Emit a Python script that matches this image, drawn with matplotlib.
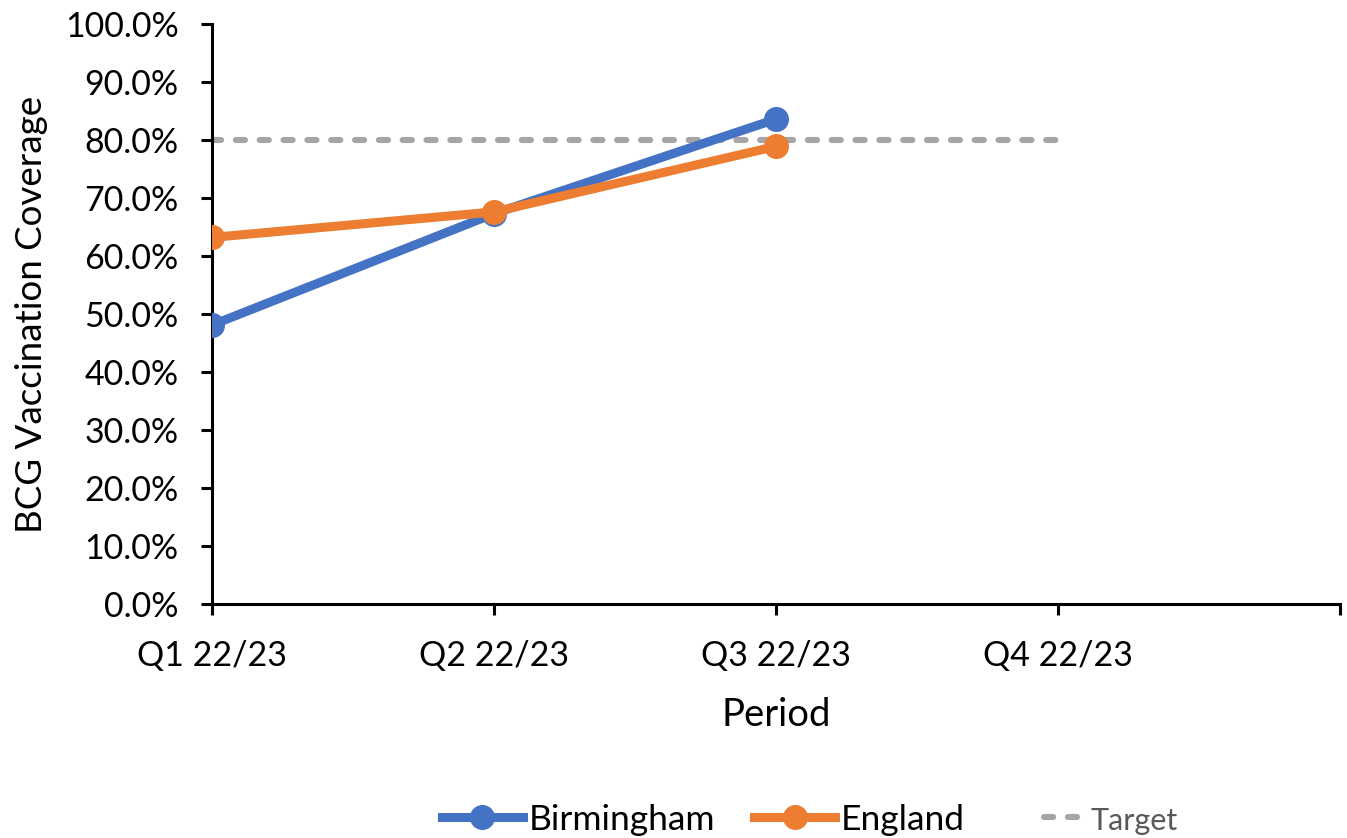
import matplotlib
matplotlib.use("Agg")
import matplotlib.pyplot as plt
from matplotlib.ticker import FuncFormatter
from matplotlib.legend_handler import HandlerLine2D

periods = ["Q1 22/23", "Q2 22/23", "Q3 22/23", "Q4 22/23"]
birmingham = [48.1, 67.3, 83.6]
england = [63.2, 67.6, 78.9]
target = [80.0, 80.0, 80.0, 80.0]
y_ticks = [0, 10, 20, 30, 40, 50, 60, 70, 80, 90, 100]

plt.rcParams['font.family'] = ['Lato', 'DejaVu Sans']


class ShortHandler(HandlerLine2D):
    def create_artists(self, legend, orig_handle, xdescent, ydescent, width,
                       height, fontsize, trans):
        new_w = width * 0.5
        return super().create_artists(legend, orig_handle,
                                      xdescent - (width - new_w), ydescent,
                                      new_w, height, fontsize, trans)


fig = plt.figure(figsize=(13.47, 8.38), dpi=100)
ax = fig.add_axes([0.1574, 0.2792, 0.8374, 0.6922])

x_all = list(range(len(periods)))
ax.plot(x_all, target, color="#A5A5A5", linewidth=4.4, linestyle=(0, (1.5, 2.4)),
        dash_capstyle="round", label="Target", zorder=2)
ax.plot(range(len(birmingham)), birmingham, color="#4472C4", linewidth=6.5,
        marker="o", markersize=17, label="Birmingham", zorder=3)
ax.plot(range(len(england)), england, color="#ED7D31", linewidth=6.5,
        marker="o", markersize=17, label="England", zorder=4)

ax.set_xlim(0, 4)
ax.set_ylim(0, 100)
ax.set_xticks(range(5))
ax.set_xticklabels(periods + [""])
ax.set_yticks(y_ticks)
ax.yaxis.set_major_formatter(FuncFormatter(lambda v, p: f"{v:.1f}%"))

for s in ["top", "right"]:
    ax.spines[s].set_visible(False)
for s in ["left", "bottom"]:
    ax.spines[s].set_linewidth(2.2)
    ax.spines[s].set_color("black")
ax.tick_params(axis="both", width=2.2, length=8, labelsize=24.5, colors="black")
ax.tick_params(axis="x", pad=18)
ax.tick_params(axis="y", pad=16)

ax.set_xlabel("Period", fontsize=27.5, labelpad=18)
ax.set_ylabel("BCG Vaccination Coverage", fontsize=26.5, labelpad=12)

handles, labels = ax.get_legend_handles_labels()
order = [1, 2, 0]
leg = fig.legend([handles[i] for i in order], [labels[i] for i in order],
                 loc="center", bbox_to_anchor=(0.601, 0.022), ncol=3, frameon=False,
                 fontsize=25.5, handlelength=2.3, columnspacing=1.1, handletextpad=0.15,
                 handler_map={handles[0]: ShortHandler()})
for t in leg.get_texts():
    if t.get_text() == "Target":
        t.set_color("#595959")
        t.set_fontsize(22)

fig.savefig("out.png", dpi=100)
